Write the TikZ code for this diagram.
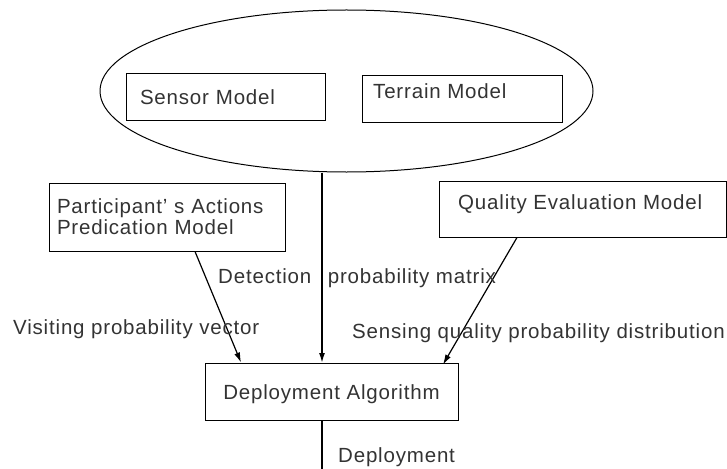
\documentclass[tikz,border=0pt]{standalone}
\usepackage{fontspec}
\setmainfont{Liberation Sans}[LetterSpace=4]
\usetikzlibrary{shapes.geometric,arrows.meta}
\tikzset{
	box/.style={draw, line width=1pt, inner sep=0pt},
	txt/.style={inner sep=0pt, anchor=base west},
	arr/.style={-{Latex[length=10pt,width=6pt]}, line width=1.2pt}
}
\begin{document}
\begin{tikzpicture}[x=1pt,y=-1pt, font=\fontsize{20.5}{21}\selectfont, text=black!80]
		\clip (0,0) rectangle (727,468);

		\node[draw, ellipse, line width=1pt, minimum width=493, minimum height=162, inner sep=0pt] (env) at (346.5,91) {}; % Outer model.
		\node[box, minimum width=199, minimum height=46, text width=171, align=left, inner xsep=14] (sensor) at (225.5,97) {Sensor Model};
		\node[box, minimum width=200, minimum height=46] (terrain) at (462,99) {};
		\node[txt] (terraintxt) at (373,99) {Terrain Model};

		\node[box, minimum height=68, text width=220, align=left, inner xsep=8] (part) at (167,217) {Participant' s Actions\\Predication Model};
		\node[box, minimum width=287, minimum height=56] (qual) at (582.5,209) {};
		\node[txt] (qualtxt) at (458,209) {Quality Evaluation Model};

		\node[box, minimum width=253, minimum height=57, text height=15, text depth=0] (dep) at (331.5,391.5) {Deployment Algorithm};

		\coordinate (dmid) at (322,363);
		\coordinate (dend) at (322,480);
		\draw[arr, line width=1.6pt] (dmid |- env.south) -- (dmid); % Detection.
		\draw[arr] ([xshift=28]part.south) -- ([xshift=-90.5]dep.north);
		\draw[arr] ([xshift=-65.5]qual.south) -- ([xshift=111.5,yshift=-2]dep.north);
		\draw[arr] (dmid |- dep.south) -- (dend);

		\node[txt] (detlbl) at (218,283) {Detection\hspace{10pt} probability matrix};
		\node[txt] (vislbl) at (13,334) {Visiting probability vector};
		\node[txt] (senlbl) at (352,338) {Sensing quality probability distribution};
		\node[txt] (deplbl) at (338,462) {Deployment};
	\end{tikzpicture}
\end{document}
